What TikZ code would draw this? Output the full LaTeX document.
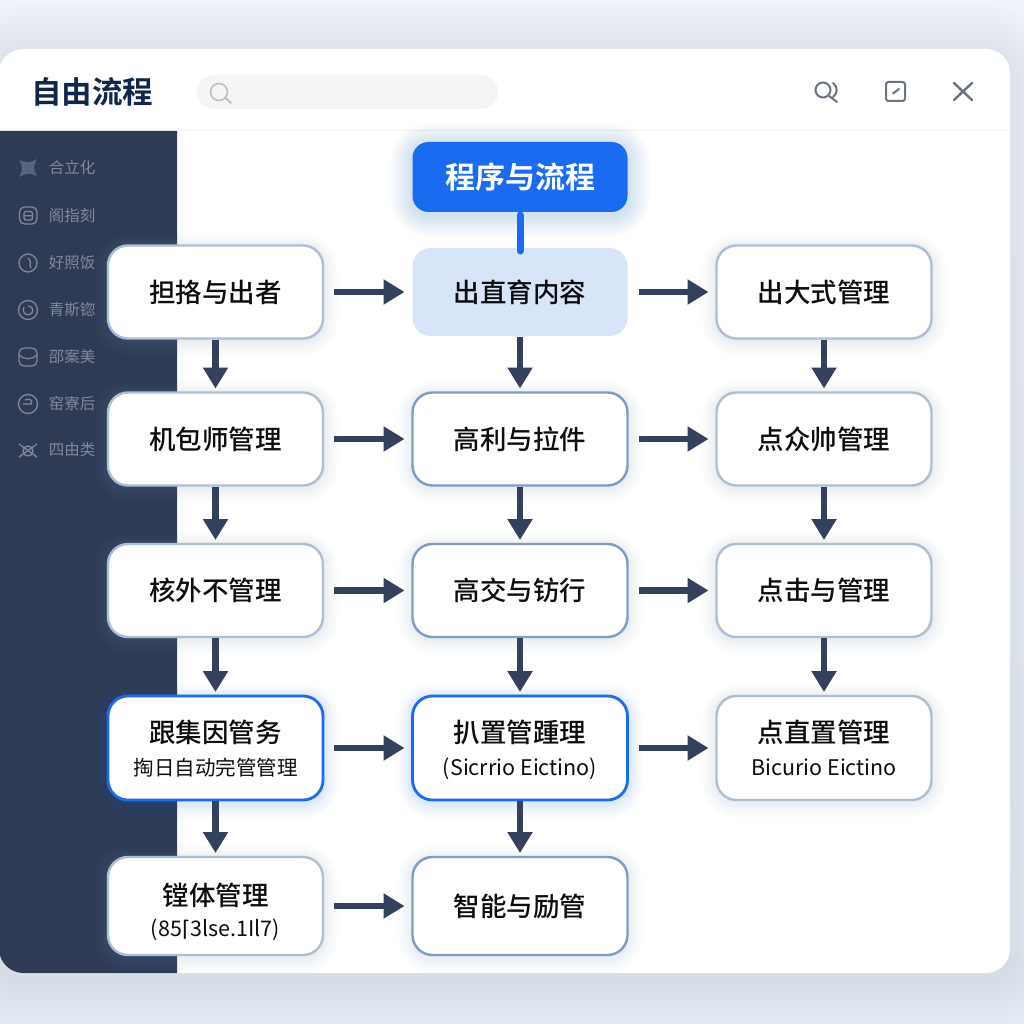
\documentclass[tikz,border=0pt]{standalone}
\usepackage{fontspec}
\setmainfont{Noto Sans CJK SC}[BoldFont={Noto Sans CJK SC Bold}]
\newfontfamily\medcjk{Noto Sans CJK SC Medium}
\newfontfamily\symfont{DejaVu Sans}
\newcommand{\sublabelfont}{\fontsize{20.5}{26}\selectfont}
\newcommand{\latinsub}{\fontsize{21.5}{26}\selectfont}
\newcommand{\topgap}[1]{\rule{0pt}{#1pt}}
\newcommand{\lowstrut}{\rule[-7pt]{0pt}{20pt}}
\usetikzlibrary{arrows.meta}
\definecolor{bgA}{HTML}{EFF3FA}
\definecolor{bgB}{HTML}{E5ECF6}
\definecolor{sidebar}{HTML}{2F3B55}
\definecolor{sidetxt}{HTML}{7F899C}
\definecolor{navy}{HTML}{10264D}
\definecolor{arrowc}{HTML}{33415C}
\definecolor{brand}{HTML}{1A6BF0}
\definecolor{edgeA}{HTML}{AFBFD2}
\definecolor{edgeB}{HTML}{7C9CC8}
\definecolor{shadowc}{HTML}{6F8FD8}
\definecolor{paleblue}{HTML}{D8E5F8}
\definecolor{ink}{HTML}{0B0D10}
\definecolor{icong}{HTML}{6C7380}
\tikzset{
  x=1pt,y=-1pt,
  halo/.style={
    preaction={draw=#1,draw opacity=.02,line width=30pt,transform canvas={yshift=-3pt}},
    preaction={draw=#1,draw opacity=.02,line width=25pt,transform canvas={yshift=-3pt}},
    preaction={draw=#1,draw opacity=.025,line width=20pt,transform canvas={yshift=-3pt}},
    preaction={draw=#1,draw opacity=.025,line width=15pt,transform canvas={yshift=-2pt}},
    preaction={draw=#1,draw opacity=.03,line width=10pt,transform canvas={yshift=-2pt}},
    preaction={draw=#1,draw opacity=.04,line width=5pt,transform canvas={yshift=-1pt}}},
  softlayer/.style={line width=#1pt},
  flowbox/.style={rounded corners=20pt,minimum width=215pt,align=center,inner sep=0pt,outer sep=1pt,
    fill=white,line width=2.4pt,text=ink,font=\medcjk\fontsize{26.5}{33}\selectfont},
  plainbox/.style={flowbox,draw=edgeA,halo=edgeB},
  midbox/.style={flowbox,draw=edgeB,halo=edgeB},
  hibox/.style={flowbox,draw=brand,line width=2.8pt,halo=brand},
  flow/.style={draw=arrowc,line width=6.5pt,-{Triangle[length=21pt,width=24pt]}},
  hflow/.style={flow,shorten <=10pt,shorten >=7pt},
  vflow/.style={flow,shorten >=3pt},
  sideitem/.style={text=sidetxt,font=\fontsize{15.5}{18}\selectfont,inner sep=0pt},
  sideicon/.style={draw=sidetxt,line width=1.3pt,fill=none},
  topicon/.style={draw=icong,line width=2pt,line cap=round,fill=none},
}
\begin{document}
\begin{tikzpicture}
\useasboundingbox (0,0) rectangle (1024,1024);
\clip (0,0) rectangle (1024,1024);
% page background
\shade[top color=bgA,bottom color=bgB] (0,0) rectangle (1024,1024);
% window shadow
\foreach \w in {6,12,...,96}
  \draw[shadowc,draw opacity=.007,softlayer=\w,rounded corners=24pt] (-1,53) rectangle (1010,979);
% window
\fill[white,rounded corners=24pt] (-1,49) rectangle (1010,973);
\draw[draw=black!6,line width=1pt] (177,131) -- (1010,131);
% sidebar
\fill[sidebar] (-1,131) -- (177,131) -- (177,973) -- (23,973) .. controls (10,973) and (-1,962) .. (-1,949) -- cycle;
% title and search
\node[inner sep=0pt,text=navy,font=\bfseries\fontsize{30.5}{36}\selectfont] (title) at (92,92) {自由流程};
\node[fill=black!4,rounded corners=17pt,minimum width=301pt,minimum height=34pt,inner sep=0pt] (search) at (347.5,92) {};
\draw[draw=black!25,line width=1.6pt] (219,92) circle (8.5);
\draw[draw=black!25,line width=2pt,line cap=round] (225.5,98) -- (231,103);
% window icons
\draw[topicon] (823,90) circle (7.5);
\draw[topicon] (833,83) .. controls (838,87) and (838,93) .. (833,97);
\draw[topicon] (829,96) -- (837,102);
\draw[topicon,rounded corners=2.5pt] (886,82) rectangle (905,101);
\draw[topicon] (893,93.5) -- (899,89);
\draw[topicon,line width=2.4pt] (954,83) -- (972,100) (972,83) -- (954,100);
% sidebar icons and items
\fill[sidetxt!130] (19,160) .. controls (26,163) and (30,163) .. (37,159) .. controls (33,166) and (33,170) .. (37,176) .. controls (31,173) and (26,173) .. (19,177) .. controls (23,171) and (23,165) .. (19,160) -- cycle;
\node[sideitem] (s1) at (72,168) {合立化};
\draw[sideicon,rounded corners=5pt] (19.5,207) rectangle (37,224);
\draw[sideicon,rounded corners=2pt] (24,211.5) rectangle (32.5,220) (24,215.7) -- (32.5,215.7);
\node[sideitem] (s2) at (72,216) {阁指刻};
\draw[sideicon] (28,263) circle (9);
\draw[sideicon] (28,258) .. controls (33,262) and (28,264) .. (31,268);
\node[sideitem] (s3) at (72,263) {好照饭};
\draw[sideicon] (28,310) circle (9.5);
\draw[sideicon] (24,307) .. controls (21,314) and (28,317) .. (32,313) .. controls (34,310) and (32,306) .. (28,306);
\node[sideitem] (s4) at (72,310) {青斯锪};
\draw[sideicon,rounded corners=5pt] (19,348) rectangle (37,366);
\draw[sideicon] (19,355) .. controls (25,360) and (31,360) .. (37,355);
\node[sideitem] (s5) at (72,357) {邵案美};
\draw[sideicon] (28,404) circle (9.5);
\draw[sideicon] (23,404) -- (31,404) .. controls (34,400) and (28,398) .. (25,400);
\node[sideitem] (s6) at (72,404) {窑寮后};
\draw[sideicon] (28,451) circle (5);
\draw[sideicon] (19,444) -- (37,457) (37,444) -- (19,457);
\node[sideitem] (s7) at (72,450) {四由类};
% glow of the top node
\foreach \w in {3,6,...,45}
  \draw[brand,draw opacity=.01,softlayer=\w,rounded corners=16pt] (412.5,145) rectangle (627.5,215);
% flow nodes
\node[flowbox,draw=none,fill=brand,rounded corners=16pt,minimum height=70pt,text=white,font=\bfseries\fontsize{30}{36}\selectfont] (top) at (520,177) {程序与流程};
\node[flowbox,draw=none,fill=paleblue,rounded corners=18pt,minimum height=88pt] (b1) at (520,292) {出直育内容};

\node[plainbox,minimum height=93pt] (a1) at (215.5,292) {担挌与出者};
\node[plainbox,minimum height=93pt] (c1) at (824,292) {出大式管理};
\node[plainbox,minimum height=93pt] (a2) at (215.5,439) {机包师管理};
\node[midbox,minimum height=93pt] (b2) at (520,439) {高利与拉件};
\node[plainbox,minimum height=93pt] (c2) at (824,439) {点众帅管理};
\node[plainbox,minimum height=93pt] (a3) at (215.5,590.5) {核外不管理};
\node[midbox,minimum height=93pt] (b3) at (520,590.5) {高交与钫行};
\node[plainbox,minimum height=93pt] (c3) at (824,590.5) {点击与管理};
\node[hibox,minimum height=104pt] (a4) at (215.5,748) {\topgap{29}跟集因管务\\[0pt]{\normalfont\sublabelfont\lowstrut 掏日自动完管管理}};
\node[hibox,minimum height=104pt] (b4) at (520,748) {\topgap{29}扒置管踵理\\[0pt]{\normalfont\latinsub\lowstrut (Sicrrio Eictino)}};
\node[plainbox,minimum height=104pt] (c4) at (824,748) {\topgap{29}点直置管理\\[0pt]{\normalfont\latinsub\lowstrut Bicurio Eictino}};
\node[plainbox,minimum height=98pt] (a5) at (215.5,906) {\topgap{37}镗体管理\\[-2pt]{\normalfont\latinsub\lowstrut (85{\symfont ⌈}3lse.1Il7)}};
\node[midbox,minimum height=98pt] (b5) at (520,906) {智能与励管};
% connectors
\draw[brand,line width=7pt,line cap=round,shorten >=-4pt,shorten <=2pt] (top) -- (b1);
\foreach \u/\v in {a1/b1,b1/c1,a2/b2,b2/c2,a3/b3,b3/c3,a4/b4,b4/c4,a5/b5}
  \draw[hflow] (\u) -- (\v);
\foreach \u/\v in {a1/a2,a2/a3,a3/a4,a4/a5,b1/b2,b2/b3,b3/b4,b4/b5,c1/c2,c2/c3,c3/c4}
  \draw[vflow] (\u) -- (\v);
\end{tikzpicture}
\end{document}
